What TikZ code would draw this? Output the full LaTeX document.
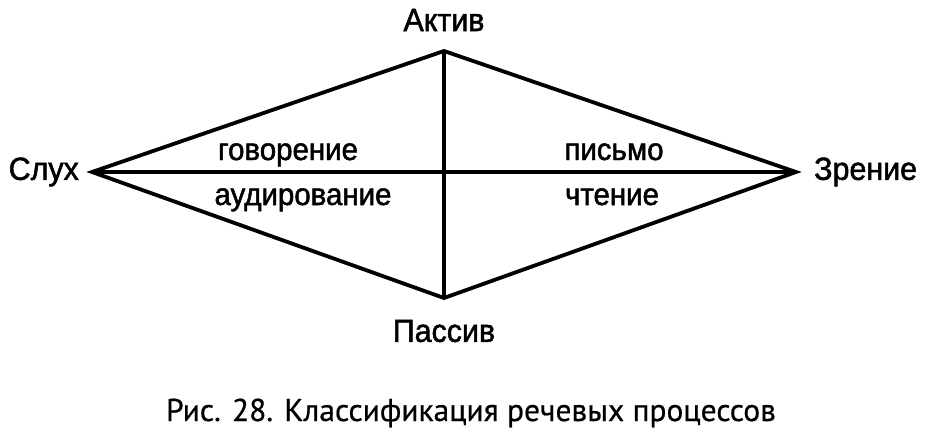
\documentclass[tikz,border=0pt]{standalone}
\usepackage{fontspec}
\setmainfont{Liberation Sans}[FakeBold=1.6,FakeStretch=0.95]
\newfontfamily\capfont{PT Sans}[FakeBold=0.6]
\begin{document}
\begin{tikzpicture}[x=1pt,y=-1pt,
  edge/.style={line width=3.8pt,line join=miter,line cap=butt},
  lbl/.style={inner sep=0pt,font=\fontsize{32}{36}\selectfont},
  inlbl/.style={inner sep=0pt,font=\fontsize{31}{36}\selectfont}]
\useasboundingbox (0,0) rectangle (934,436);
\coordinate (L) at (92,172);
\coordinate (T) at (444,51);
\coordinate (R) at (796,172);
\coordinate (B) at (444,298);
\draw[edge] (L) -- (T) -- (R) -- (B) -- cycle;
\draw[edge] (L) -- (R);
\draw[edge] (T) -- (B);
\node[lbl] (akt) at (444,20) {Актив};
\node[lbl] (pas) at (444,331) {Пассив};
\node[lbl,anchor=east] (slu) at (79,172) {Слух};
\node[lbl,anchor=west] (zre) at (814,172) {Зрение};
\node[inlbl,anchor=base] (gov) at (288,160) {говорение};
\node[inlbl,anchor=base] (aud) at (303,205) {аудирование};
\node[inlbl,anchor=base] (pis) at (614,160) {письмо};
\node[inlbl,anchor=base] (cht) at (612,205) {чтение};
\node[inner sep=0pt,anchor=base,font=\capfont\fontsize{31.5}{36}\selectfont] (cap) at (471,421) {Рис. 28. Классификация речевых процессов};
\end{tikzpicture}
\end{document}
